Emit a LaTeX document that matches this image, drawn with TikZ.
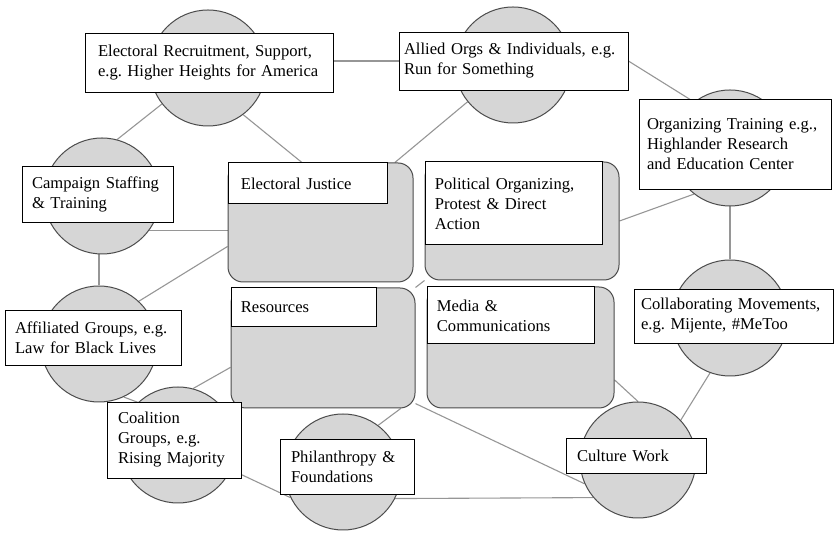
\documentclass[tikz,border=0pt]{standalone}
\usepackage{fontspec}
\setmainfont{Liberation Serif}
\usepackage{tikz}
\usetikzlibrary{positioning, calc, backgrounds}

\definecolor{hubfill}{RGB}{214,214,214}
\definecolor{hubline}{RGB}{75,75,75}
\definecolor{linkgray}{RGB}{150,150,150}

\begin{document}
\frenchspacing
\begin{tikzpicture}[x=1pt, y=1pt,
  hub/.style={circle, fill=hubfill, draw=hubline, line width=1pt, minimum size=116pt, inner sep=0pt},
  area/.style={rectangle, rounded corners=15pt, fill=hubfill, draw=hubline, line width=1pt, inner sep=0pt},
  tag/.style={rectangle, fill=white, draw=black, line width=0.8pt, align=left, inner xsep=10pt, inner ysep=2pt, font=\fontsize{16.6}{20}\selectfont},
  link/.style={draw=linkgray, line width=1.1pt}]
\useasboundingbox (0,0) rectangle (835,535);

% circles
\node[hub] at (208,467) (er) {};
\node[hub] at (513,470) (allied) {};
\node[hub] at (730,387) (orgtr) {};
\node[hub] at (102,339) (camp) {};
\node[hub] at (99,191) (affil) {};
\node[hub] at (178,90) (coal) {};
\node[hub] at (343,63) (phil) {};
\node[hub] at (730,217) (collab) {};
\node[hub] at (638,75) (cult) {};

% center squares
\node[area, minimum width=185pt, minimum height=119pt] at (320.5,312.5) (ej) {};
\node[area, minimum width=194pt, minimum height=118pt] at (522,314) (pol) {};
\node[area, minimum width=184pt, minimum height=120pt] at (323,187) (res) {};
\node[area, minimum width=187pt, minimum height=121pt] at (520.5,187.5) (med) {};

\node[tag, anchor=north west, inner xsep=13pt, text width=133pt, minimum height=41pt] at (ej.north west) (ejlab) {Electoral Justice};
\node[tag, anchor=north west, text width=157pt, minimum height=83pt] at (pol.north west) (pollab) {Political Organizing,\\ Protest \& Direct\\ Action};
\node[tag, anchor=north west, text width=125pt, minimum height=39pt] at (res.north west) (reslab) {Resources};
\node[tag, anchor=north west, text width=147pt, minimum height=57pt] at (med.north west) (medlab) {Media \&\\ Communications};

% labels
\node[tag, inner xsep=13pt, text width=222pt, minimum height=59pt] at (209,472.5) (erbox) {Electoral Recruitment, Support,\\ e.g. Higher Heights for America};
\node[tag, inner xsep=5pt, text width=219pt, minimum height=58pt] at (513.5,474) (allbox) {Allied Orgs \& Individuals, e.g.\\ Run for Something};
\node[tag, inner xsep=8pt, text width=176pt, minimum height=90pt] at (735,391) (orgbox) {Organizing Training e.g.,\\ Highlander Research\\ and Education Center};
\node[tag, text width=131pt, minimum height=56pt] at (97.5,341) (campbox) {Campaign Staffing\\ \& Training};
\node[tag, text width=156pt, minimum height=55pt] at (93,197.5) (affilbox) {Affiliated Groups, e.g.\\ Law for Black Lives};
\node[tag, inner xsep=11pt, text width=112pt, minimum height=76pt] at (174,95) (coalbox) {Coalition\\ Groups, e.g.\\ Rising Majority};
\node[tag, inner xsep=11pt, text width=112pt, minimum height=55pt] at (347,68.5) (philbox) {Philanthropy \&\\ Foundations};
\node[tag, inner xsep=7pt, text width=185pt, minimum height=54pt] at (733.5,219) (collabbox) {Collaborating Movements,\\ e.g. Mijente, \#MeToo};
\node[tag, inner xsep=11pt, text width=118pt, minimum height=35pt] at (636,79.5) (cultbox) {Culture Work};

% connectors
\begin{pgfonlayer}{background}
\draw[link] (allbox.west -| erbox.east) -- (allbox.west);
\draw[link] (er.218) -- (camp.75);
\draw[link] (er.-53) -- ($(ej.north west)!.4!(ej.north east)$);
\draw[link] (allied.219) -- ($(ej.north west)!.9!(ej.north east)$);
\draw[link] (allbox.east) -- (orgtr.128);
\draw[link] (orgtr.232) -- (pol.east);
\draw[link] (orgtr.south) -- (collab.north);
\draw[link] (collab.-110) -- (cult.43);
\draw[link] (med.-19) -- (cult.north);
\draw[link] (res.-31) -- (cult.204);
\draw[link] (phil.-27) -- (cult.-140);
\draw[link] (coal.-25) -- (phil.206);
\draw[link] (phil.53) -- ($(res.south west)!.92!(res.south east)$);
\draw[link] (coal.75) -- ($(res.north west)!.66!(res.south west)$);
\draw[link] (affil.-65) -- ($(coalbox.north west)+(40,-4)$);
\draw[link] (affil.47) -- ($(ej.north west)!.7!(ej.south west)$);
\draw[link] (camp.south -| affil) -- (affil.north);
\draw[link] (camp.-36) -- (camp.-36 -| ej.west);
\draw[link] (res.north east) -- (pol.south west);
\end{pgfonlayer}
\end{tikzpicture}
\end{document}
